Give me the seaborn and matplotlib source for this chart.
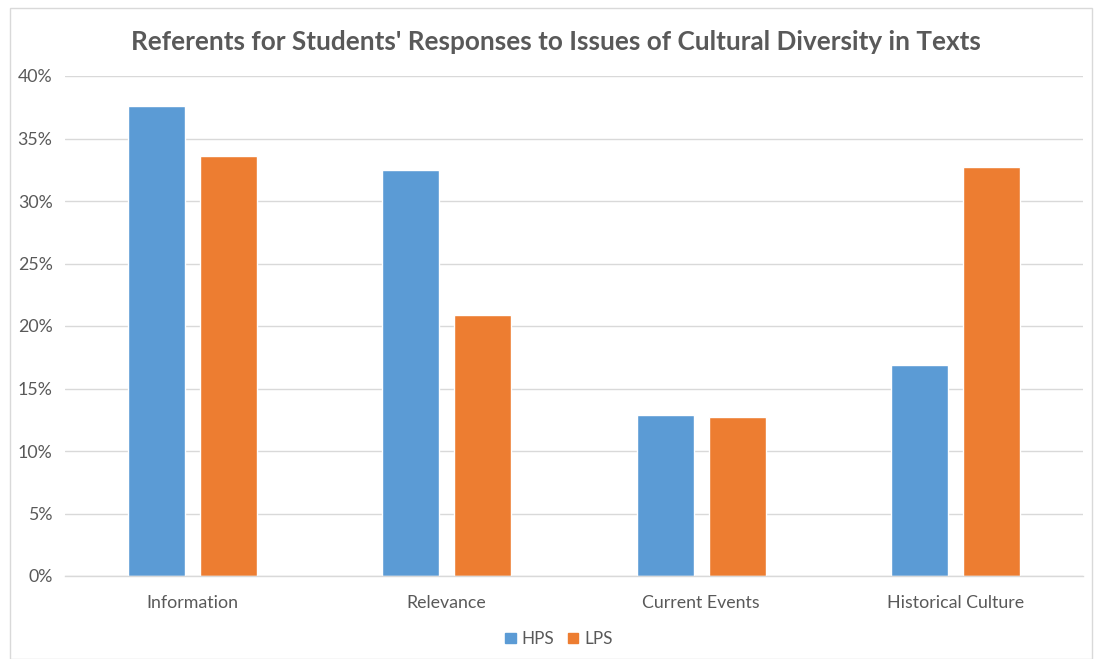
import pandas as pd
import seaborn as sns
import matplotlib.pyplot as plt
from matplotlib.patches import Rectangle
from matplotlib.ticker import PercentFormatter

categories = ['Information', 'Relevance', 'Current Events', 'Historical Culture']
hps = [37.6, 32.5, 12.9, 16.85]
lps = [33.6, 20.9, 12.7, 32.7]
groups = ['HPS', 'LPS']

df = pd.DataFrame({
    'category': categories * 2,
    'group': ['HPS'] * 4 + ['LPS'] * 4,
    'value': hps + lps,
})

sns.set_theme(style='white')
plt.rcParams['font.family'] = ['Lato', 'DejaVu Sans']
grey = '#595959'

fig = plt.figure(figsize=(10.94, 6.59), dpi=100)
ax = fig.add_axes([65 / 1094, 1 - 576 / 659, (1083 - 65) / 1094, 500 / 659])

sns.barplot(data=df, x='category', y='value', hue='group', order=categories,
            hue_order=groups, palette=['#5B9BD5', '#ED7D31'],
            width=0.566, gap=0.21, ax=ax, legend=False, saturation=1)

ax.set_ylim(0, 40)
ax.set_xlim(-0.5, 3.5)
ax.set_yticks(range(0, 41, 5))
ax.yaxis.set_major_formatter(PercentFormatter(decimals=0))
ax.yaxis.grid(True, color='#D9D9D9', linewidth=1)
ax.set_axisbelow(True)
for s in ['top', 'right', 'left']:
    ax.spines[s].set_visible(False)
ax.spines['bottom'].set_color('#D9D9D9')
ax.spines['bottom'].set_linewidth(1)
ax.set_xlabel('')
ax.set_ylabel('')
ax.tick_params(axis='both', length=0, colors=grey, labelsize=12.8)
ax.tick_params(axis='x', pad=14)
ax.tick_params(axis='y', pad=9)

fig.suptitle("Referents for Students' Responses to Issues of Cultural Diversity in Texts",
             x=0.508, y=1 - 42 / 659, va='center', fontsize=18.8,
             fontweight='bold', color=grey)

# legend keys, small squares like the excel chart
handles = [Rectangle((0, 0), 1, 1, color=c) for c in ['#5B9BD5', '#ED7D31']]
fig.legend(handles, groups, loc='center', bbox_to_anchor=(0.511, 1 - 639 / 659),
           ncol=2, frameon=False, fontsize=12.3, labelcolor=grey,
           handlelength=0.6, handleheight=0.6, handletextpad=0.35, columnspacing=0.8)

fig.patches.append(Rectangle((10 / 1094, 0), 1 - 10 / 1094 - 2 / 1094, 1 - 8 / 659,
                             transform=fig.transFigure, fill=False,
                             edgecolor='#D9D9D9', linewidth=1))

fig.savefig('out.png', dpi=100)
